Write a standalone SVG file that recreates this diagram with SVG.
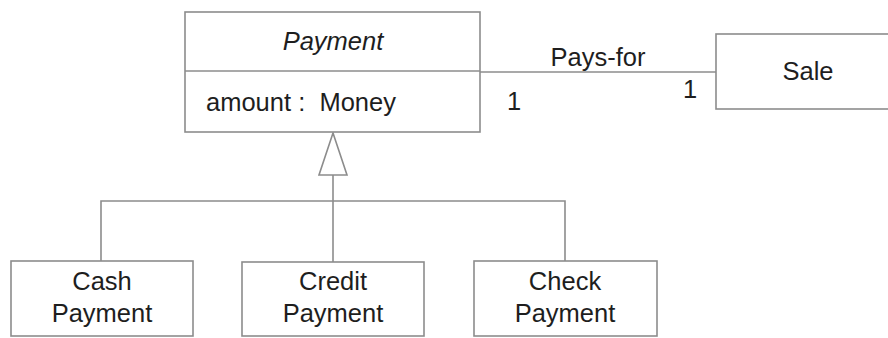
<svg xmlns="http://www.w3.org/2000/svg" width="888" height="338" viewBox="0 0 888 338">
<style>
.box{fill:#fff;stroke:#8c8c8c;stroke-width:1.6}
.ln{fill:none;stroke:#8c8c8c;stroke-width:1.6}
.t{font-family:"Liberation Sans",Arial,sans-serif;font-size:25.5px;fill:#1e1e1e}
.m{text-anchor:middle}
</style>
<rect width="888" height="338" fill="#fff"/>
<g id="connectors">
<line class="ln" x1="480" y1="72" x2="716" y2="72"/>
<polyline class="ln" points="101,261 101,201 565,201 565,261"/>
<line class="ln" x1="333" y1="175" x2="333" y2="262"/>
<polygon class="box" points="333,133 347,175 319,175"/>
<text class="t m" x="598" y="66">Pays-for</text>
<text class="t" x="507" y="110">1</text>
<text class="t" x="683" y="98">1</text>
</g>
<g id="payment">
<rect class="box" x="185" y="12" width="295" height="120"/>
<line class="ln" x1="185" y1="71" x2="480" y2="71"/>
<text class="t m" x="333" y="50" font-style="italic">Payment</text>
<text class="t" x="206" y="111" xml:space="preserve">amount :  Money</text>
</g>
<g id="sale">
<rect class="box" x="716" y="34" width="190" height="75"/>
<text class="t m" x="808" y="80">Sale</text>
</g>
<g id="cash">
<rect class="box" x="11" y="261" width="182" height="75"/>
<text class="t m" x="102" y="290">Cash</text>
<text class="t m" x="102" y="322">Payment</text>
</g>
<g id="credit">
<rect class="box" x="242" y="262" width="182" height="74"/>
<text class="t m" x="333" y="290">Credit</text>
<text class="t m" x="333" y="322">Payment</text>
</g>
<g id="check">
<rect class="box" x="474" y="261" width="183" height="75"/>
<text class="t m" x="565" y="290">Check</text>
<text class="t m" x="565" y="322">Payment</text>
</g>
</svg>
